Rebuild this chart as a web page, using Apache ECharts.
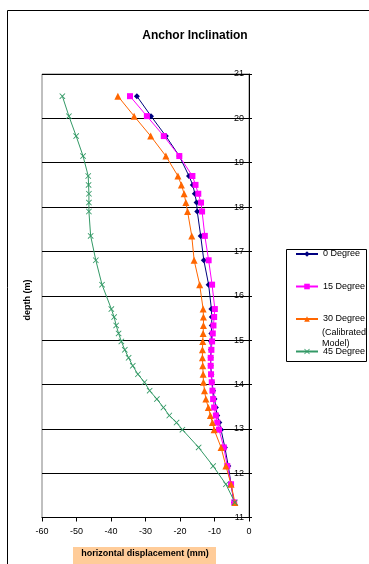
<!DOCTYPE html>
<html>
<head>
<meta charset="utf-8">
<script src="https://cdn.jsdelivr.net/npm/echarts@6/dist/echarts.min.js"></script>
<style>html,body{margin:0;padding:0;background:#fff;}#c{width:369px;height:564px;}</style>
</head>
<body>
<div id="c"></div>
<script>
var depths = [20.5,20.05,19.6,19.15,18.7,18.5,18.3,18.1,17.9,17.35,16.8,16.25,15.7,15.52,15.33,15.15,14.97,14.78,14.6,14.42,14.23,14.05,13.86,13.67,13.48,13.3,13.14,12.98,12.58,12.16,11.75,11.34];
var deg0 = [-32.5,-28.4,-24.1,-20.2,-17.4,-16.3,-15.7,-15.2,-15.0,-14.0,-13.1,-11.7,-10.9,-10.8,-10.8,-10.9,-11.0,-11.0,-11.1,-11.1,-10.9,-10.7,-10.4,-10.0,-9.6,-9.2,-8.6,-8.1,-7.0,-6.0,-5.2,-4.35];
var deg15 = [-34.5,-29.6,-24.7,-20.2,-16.4,-15.5,-14.7,-13.9,-13.6,-12.8,-11.7,-10.7,-9.9,-10.1,-10.3,-10.5,-10.7,-10.9,-11.1,-11.1,-11.0,-10.8,-10.6,-10.4,-10.1,-9.6,-9.2,-8.7,-7.3,-6.3,-5.2,-4.3];
var deg30 = [-38.0,-33.3,-28.5,-24.1,-20.6,-19.6,-18.8,-18.3,-17.8,-16.6,-15.9,-14.3,-13.3,-13.2,-13.2,-13.3,-13.4,-13.5,-13.5,-13.4,-13.3,-13.2,-12.9,-12.5,-11.8,-11.2,-10.6,-10.1,-8.1,-6.7,-5.2,-4.1];
var deg45 = [-54.1,-52.2,-50.1,-48.1,-46.6,-46.5,-46.4,-46.4,-46.4,-45.9,-44.4,-42.6,-39.9,-39.1,-38.5,-37.8,-37.0,-36.0,-34.9,-33.7,-32.2,-30.3,-28.8,-26.7,-24.8,-23.1,-21.0,-19.3,-14.6,-10.4,-6.7,-4.1];
var seriesNames = ['0 Degree','15 Degree','30 Degree','45 Degree'];
var xTicks = {min:-60, max:0, interval:10};
var yTicks = {min:11, max:21, interval:1};

function pairs(xs){ return xs.map(function(v,i){ return [v, depths[i]]; }); }

var FONT = '"Liberation Sans", Arial, sans-serif';
var crossPath = 'path://M0,1L1,0L5,4L9,0L10,1L6,5L10,9L9,10L5,6L1,10L0,9L4,5Z';
var chart = echarts.init(document.getElementById('c'), null, {renderer:'canvas'});

function mkSeries(name, data, color, symbol, size){
  return {
    name:name, type:'line', data:pairs(data), symbol:symbol, symbolSize:size,
    lineStyle:{color:color, width:1}, itemStyle:{color:color},
    showAllSymbol:true, animation:false, z: 3
  };
}

var legendBase = {orient:'vertical', itemWidth:22, itemHeight:7, padding:0,
  textStyle:{fontFamily:FONT, fontSize:9, color:'#000'}, itemGap:0, selectedMode:false};

chart.setOption({
  animation:false,
  backgroundColor:'#fff',
  title:{text:'Anchor Inclination', left:190, textAlign:'center', top:25,
    textStyle:{fontFamily:FONT, fontSize:12, fontWeight:'bold', color:'#000'}},
  grid:{left:42, right:120, top:74, bottom:46.5, show:true, borderColor:'#808080', borderWidth:1, backgroundColor:'#fff'},
  xAxis:{type:'value', min:xTicks.min, max:xTicks.max, interval:xTicks.interval,
    axisLine:{show:true, onZero:false, lineStyle:{color:'#000', width:1}},
    axisTick:{show:true, length:4, lineStyle:{color:'#000'}},
    axisLabel:{fontFamily:FONT, fontSize:9, color:'#000', margin:10},
    splitLine:{show:false}
  },
  yAxis:{type:'value', position:'right', min:yTicks.min, max:yTicks.max, interval:yTicks.interval,
    axisLine:{show:true, onZero:false, lineStyle:{color:'#000', width:1}},
    axisTick:{show:true, length:3, lineStyle:{color:'#000'}},
    axisLabel:{inside:true, fontFamily:FONT, fontSize:9, color:'#000', margin:5},
    splitLine:{show:true, lineStyle:{color:'#000', width:1}}
  },
  legend:[
    Object.assign({}, legendBase, {data:['0 Degree'], left:295, top:249.5}),
    Object.assign({}, legendBase, {data:['15 Degree'], left:295, top:282}),
    Object.assign({}, legendBase, {data:['30 Degree'], left:295, top:314.5}),
    Object.assign({}, legendBase, {data:['45 Degree'], left:295, top:347})
  ],
  graphic:[
    {type:'rect', shape:{x:7.5, y:10.5, width:400, height:600}, style:{fill:'none', stroke:'#000', lineWidth:1}, silent:true, z:-10},
    {type:'rect', shape:{x:286.5, y:249.5, width:80, height:112}, style:{fill:'#fff', stroke:'#000', lineWidth:1}, silent:true, z:-5},
    {type:'text', x:322, y:327.5, style:{text:'(Calibrated\nModel)', font:'9px "Liberation Sans", Arial, sans-serif', fill:'#000', lineHeight:10.5}, silent:true},
    {type:'text', x:28, y:300, rotation:Math.PI/2, style:{text:'depth (m)', font:'bold 9px "Liberation Sans", Arial, sans-serif', fill:'#000', textAlign:'center', textVerticalAlign:'middle'}, silent:true},
    {type:'rect', shape:{x:73, y:547, width:143, height:20}, style:{fill:'#FFCC99'}, silent:true},
    {type:'text', x:145, y:554, style:{text:'horizontal displacement (mm)', font:'bold 9px "Liberation Sans", Arial, sans-serif', fill:'#000', textAlign:'center', textVerticalAlign:'middle'}, silent:true, z:10}
  ],
  series:[
    mkSeries(seriesNames[0], deg0, '#000080', 'diamond', 6),
    mkSeries(seriesNames[1], deg15, '#FF00FF', 'rect', 6),
    mkSeries(seriesNames[2], deg30, '#FF6600', 'triangle', 7),
    mkSeries(seriesNames[3], deg45, '#339966', crossPath, 6)
  ]
});
</script>
</body>
</html>
